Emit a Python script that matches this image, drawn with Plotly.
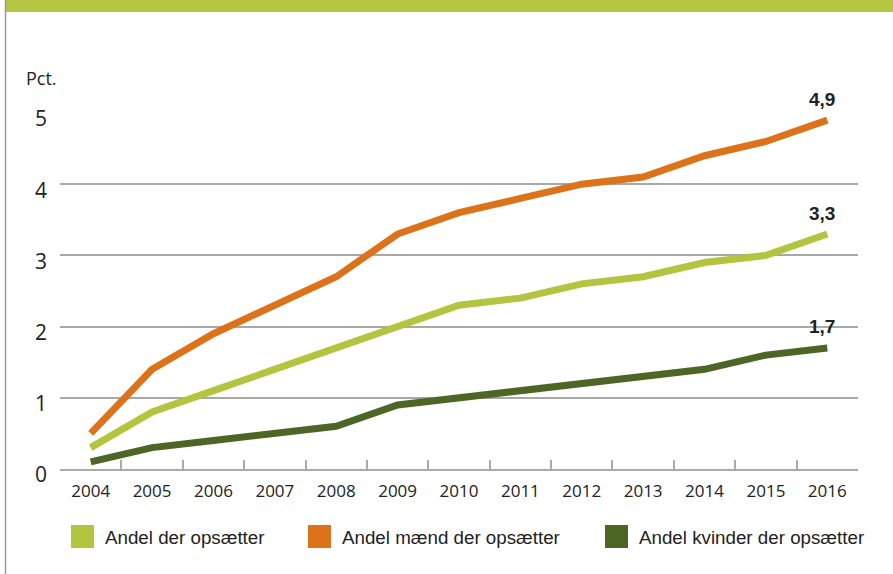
import plotly.graph_objects as go

years = ["2004", "2005", "2006", "2007", "2008", "2009", "2010", "2011", "2012", "2013", "2014", "2015", "2016"]
andel_alle = [0.3, 0.8, 1.1, 1.4, 1.7, 2.0, 2.3, 2.4, 2.6, 2.7, 2.9, 3.0, 3.3]
andel_maend = [0.5, 1.4, 1.9, 2.3, 2.7, 3.3, 3.6, 3.8, 4.0, 4.1, 4.4, 4.6, 4.9]
andel_kvinder = [0.1, 0.3, 0.4, 0.5, 0.6, 0.9, 1.0, 1.1, 1.2, 1.3, 1.4, 1.6, 1.7]
series_names = ["Andel der opsætter", "Andel mænd der opsætter", "Andel kvinder der opsætter"]
end_labels = ["3,3", "4,9", "1,7"]
y_ticks = [0, 1, 2, 3, 4, 5]

C_LIGHT = "#b3c43f"
C_ORANGE = "#dc731a"
C_DARK = "#4e6625"
colors = [C_LIGHT, C_ORANGE, C_DARK]
series = [andel_alle, andel_maend, andel_kvinder]

W, H = 893, 574
L, R, T, B = 60, 858, 113, 469


def px(x):
    return (x - L) / (R - L)


def py(y):
    return (B - y) / (B - T)


fig = go.Figure()
for name, vals, col in zip(series_names, series, colors):
    fig.add_trace(go.Scatter(
        x=years, y=vals, mode="lines", name=name,
        line=dict(color=col, width=7),
        showlegend=False, cliponaxis=False,
    ))

annotations = []
last = len(years) - 1
for vals, lab in zip(series, end_labels):
    annotations.append(dict(
        xref="x", yref="y", x=last, y=vals[-1], text=f"<b>{lab}</b>", showarrow=False,
        xshift=-5, yshift=21,
        font=dict(family="Liberation Sans, Arial", size=19, color="#222"),
    ))

annotations.append(dict(
    xref="paper", yref="paper", x=px(24), y=py(78), xanchor="left", yanchor="middle",
    text="Pct.", showarrow=False,
    font=dict(family="Open Sans", size=18, color="#222"),
))

shapes = [
    dict(type="rect", xref="paper", yref="paper", x0=px(6), x1=px(893), y0=py(12), y1=py(0),
         fillcolor="#b5c642", line=dict(width=0), layer="above"),
    dict(type="line", xref="paper", yref="paper", x0=px(5.5), x1=px(5.5), y0=py(0), y1=py(574),
         line=dict(color="#9a9a9a", width=1.5)),
]

legend_x = [71, 308, 605]
for lx, name, col in zip(legend_x, series_names, colors):
    shapes.append(dict(type="rect", xref="paper", yref="paper",
                       x0=px(lx), x1=px(lx + 23), y0=py(548), y1=py(525),
                       fillcolor=col, line=dict(width=0)))
    annotations.append(dict(
        xref="paper", yref="paper", x=px(lx + 32), y=py(537), xanchor="left", yanchor="middle",
        text=name, showarrow=False,
        font=dict(family="Liberation Sans, Arial", size=18.75, color="#222"),
    ))

fig.update_layout(
    width=W, height=H,
    margin=dict(l=L, r=W - R, t=T, b=H - B, pad=0),
    paper_bgcolor="white", plot_bgcolor="white",
    showlegend=False,
    annotations=annotations, shapes=shapes,
    xaxis=dict(
        type="category", range=[-0.5, 12.5], tickson="boundaries",
        ticks="inside", ticklen=9, tickwidth=1.5, tickcolor="#aaaaaa",
        showline=True, linecolor="#aaaaaa", linewidth=2,
        showgrid=False, zeroline=False, fixedrange=True,
        tickfont=dict(family="Open Sans", size=17, color="#222"),
        ticklabelstandoff=6,
    ),
    yaxis=dict(
        range=[0, 5], tickvals=y_ticks, ticktext=[str(v) for v in y_ticks],
        showgrid=True, gridcolor="#a8a8a8", gridwidth=1.5,
        zeroline=False, showline=False, ticks="",
        tickfont=dict(family="Open Sans", size=21, color="#222"),
        ticklabelstandoff=12, ticklabelshift=6, fixedrange=True,
    ),
)

fig.write_html("out.html")
